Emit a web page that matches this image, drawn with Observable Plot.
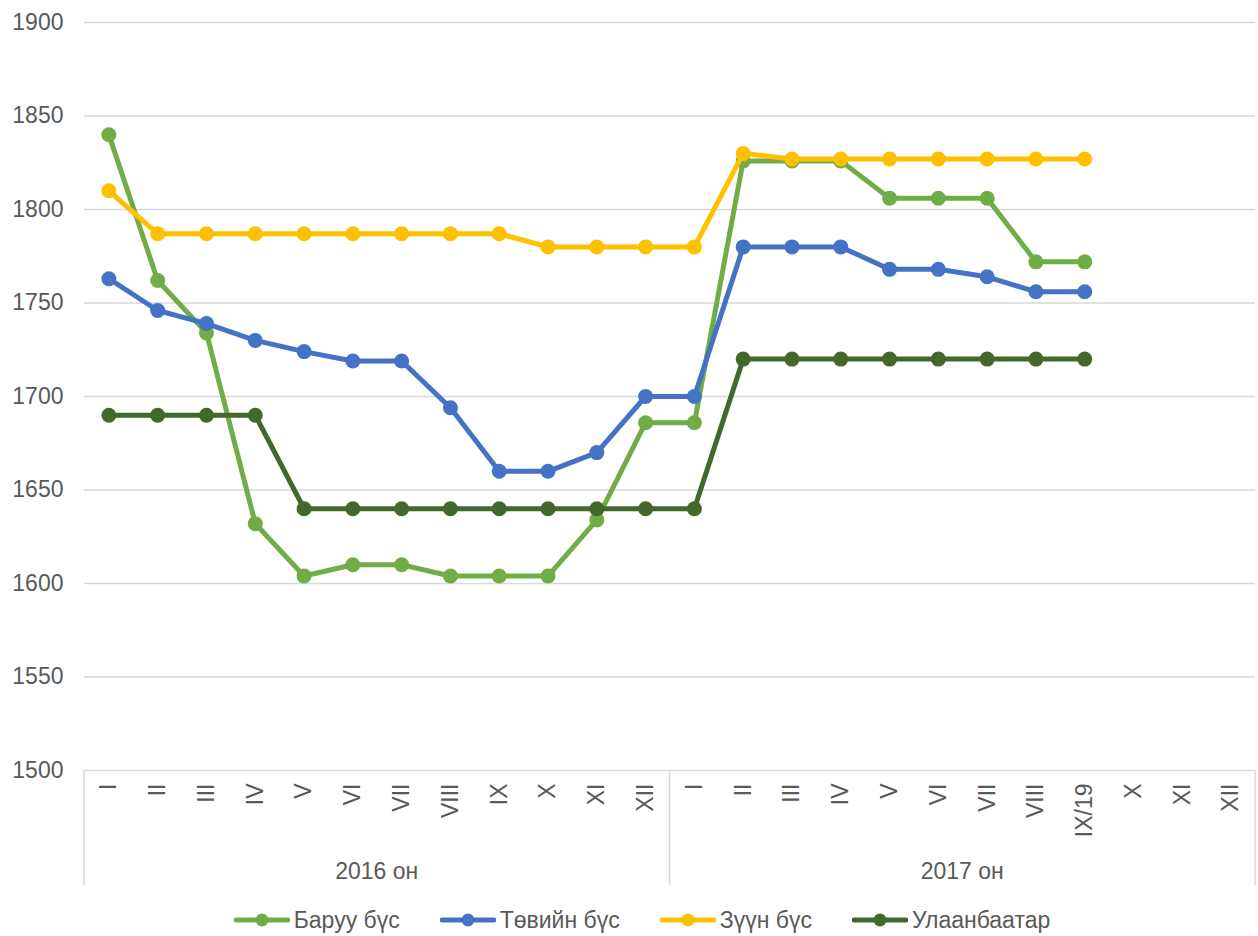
<!DOCTYPE html>
<html>
<head>
<meta charset="utf-8">
<script src="https://cdn.jsdelivr.net/npm/d3@7"></script>
<script src="https://cdn.jsdelivr.net/npm/@observablehq/plot@0.6"></script>
<style>
  body { margin: 0; background: #fff; font-family: "Liberation Sans", Arial, sans-serif; }
  #legend { display: flex; justify-content: center; align-items: center; height: 40px; padding-left: 26px;
            font-size: 23px; color: #595959; gap: 40px; }
  .item { display: flex; align-items: center; gap: 4px; }
</style>
</head>
<body>
<div id="chart"></div>
<div id="legend"></div>
<script>
const years = ["2016 он", "2017 он"];
const months2016 = ["I","II","III","IV","V","VI","VII","VIII","IX","X","XI","XII"];
const months2017 = ["I","II","III","IV","V","VI","VII","VIII","IX/19","X","XI","XII"];
const seriesNames = ["Баруу бүс", "Төвийн бүс", "Зүүн бүс", "Улаанбаатар"];
const seriesColors = ["#70ad47", "#4472c4", "#ffc000", "#43682b"];
const baruu = [1840,1762,1734,1632,1604,1610,1610,1604,1604,1604,1634,1686, 1686,1826,1826,1826,1806,1806,1806,1772,1772];
const tuv   = [1763,1746,1739,1730,1724,1719,1719,1694,1660,1660,1670,1700, 1700,1780,1780,1780,1768,1768,1764,1756,1756];
const zuun  = [1810,1787,1787,1787,1787,1787,1787,1787,1787,1780,1780,1780, 1780,1830,1827,1827,1827,1827,1827,1827,1827];
const ub    = [1690,1690,1690,1690,1640,1640,1640,1640,1640,1640,1640,1640, 1640,1720,1720,1720,1720,1720,1720,1720,1720];
const yTicks = [1500,1550,1600,1650,1700,1750,1800,1850,1900];

const keys = [
  ...months2016.map(m => years[0] + "|" + m),
  ...months2017.map(m => years[1] + "|" + m)
];
const allValues = [baruu, tuv, zuun, ub];
const rows = [];
allValues.forEach((vals, si) => vals.forEach((v, i) => rows.push({series: seriesNames[si], key: keys[i], value: v})));

const W = 1258, H = 900, ML = 84, MR = 3, MT = 22, MB = 130;

const marks = [
  Plot.gridY(yTicks, {stroke: "#d9d9d9", strokeOpacity: 1, strokeWidth: 1.5}),
  Plot.axisY(yTicks, {tickSize: 0, tickPadding: 21, fontSize: 23, tickFormat: d => String(d), label: null}),
  Plot.axisX({tickSize: 0, tickPadding: 13, tickRotate: -90, fontSize: 23, tickFormat: k => k.split("|")[1], label: null})
];
seriesNames.forEach((name, si) => {
  const d = rows.filter(r => r.series === name);
  marks.push(Plot.line(d, {x: "key", y: "value", stroke: seriesColors[si], strokeWidth: 5, curve: "linear"}));
  marks.push(Plot.dot(d, {x: "key", y: "value", fill: seriesColors[si], r: 7.5, stroke: "none"}));
});

const plot = Plot.plot({
  width: W, height: H,
  marginLeft: ML, marginRight: MR, marginTop: MT, marginBottom: MB,
  style: {fontFamily: '"Liberation Sans", Arial, sans-serif', fontSize: "23px", color: "#595959", background: "#fff"},
  x: {type: "point", domain: keys, padding: 0.5, round: false, axis: null},
  y: {domain: [1500, 1900], axis: null, label: null},
  marks
});
document.getElementById("chart").appendChild(plot);

// group separators and year labels, positioned through the x scale
const sx = plot.scale("x");
const step = (sx.range[1] - sx.range[0]) / keys.length;
const svg = d3.select(plot);
const yBase = H - MB;
const g = svg.append("g");
const bounds = [keys[0], keys[12]].map(k => sx.apply(k) - step / 2).concat([sx.apply(keys[23]) + step / 2]);
bounds.forEach(x => g.append("line").attr("x1", x).attr("x2", x).attr("y1", yBase).attr("y2", yBase + 115)
  .attr("stroke", "#d9d9d9").attr("stroke-width", 1.5));
years.forEach((yr, i) => {
  const cx = (bounds[i] + bounds[i + 1]) / 2;
  g.append("text").attr("x", cx).attr("y", yBase + 109).attr("text-anchor", "middle")
    .attr("fill", "#595959").attr("font-size", 23).text(yr);
});

// legend
const legend = d3.select("#legend");
seriesNames.forEach((name, i) => {
  const it = legend.append("div").attr("class", "item");
  const s = it.append("svg").attr("width", 56).attr("height", 16);
  s.append("line").attr("x1", 2).attr("x2", 54).attr("y1", 8).attr("y2", 8)
    .attr("stroke", seriesColors[i]).attr("stroke-width", 5).attr("stroke-linecap", "round");
  s.append("circle").attr("cx", 28).attr("cy", 8).attr("r", 6.5).attr("fill", seriesColors[i]);
  it.append("span").text(name);
});
</script>
</body>
</html>
